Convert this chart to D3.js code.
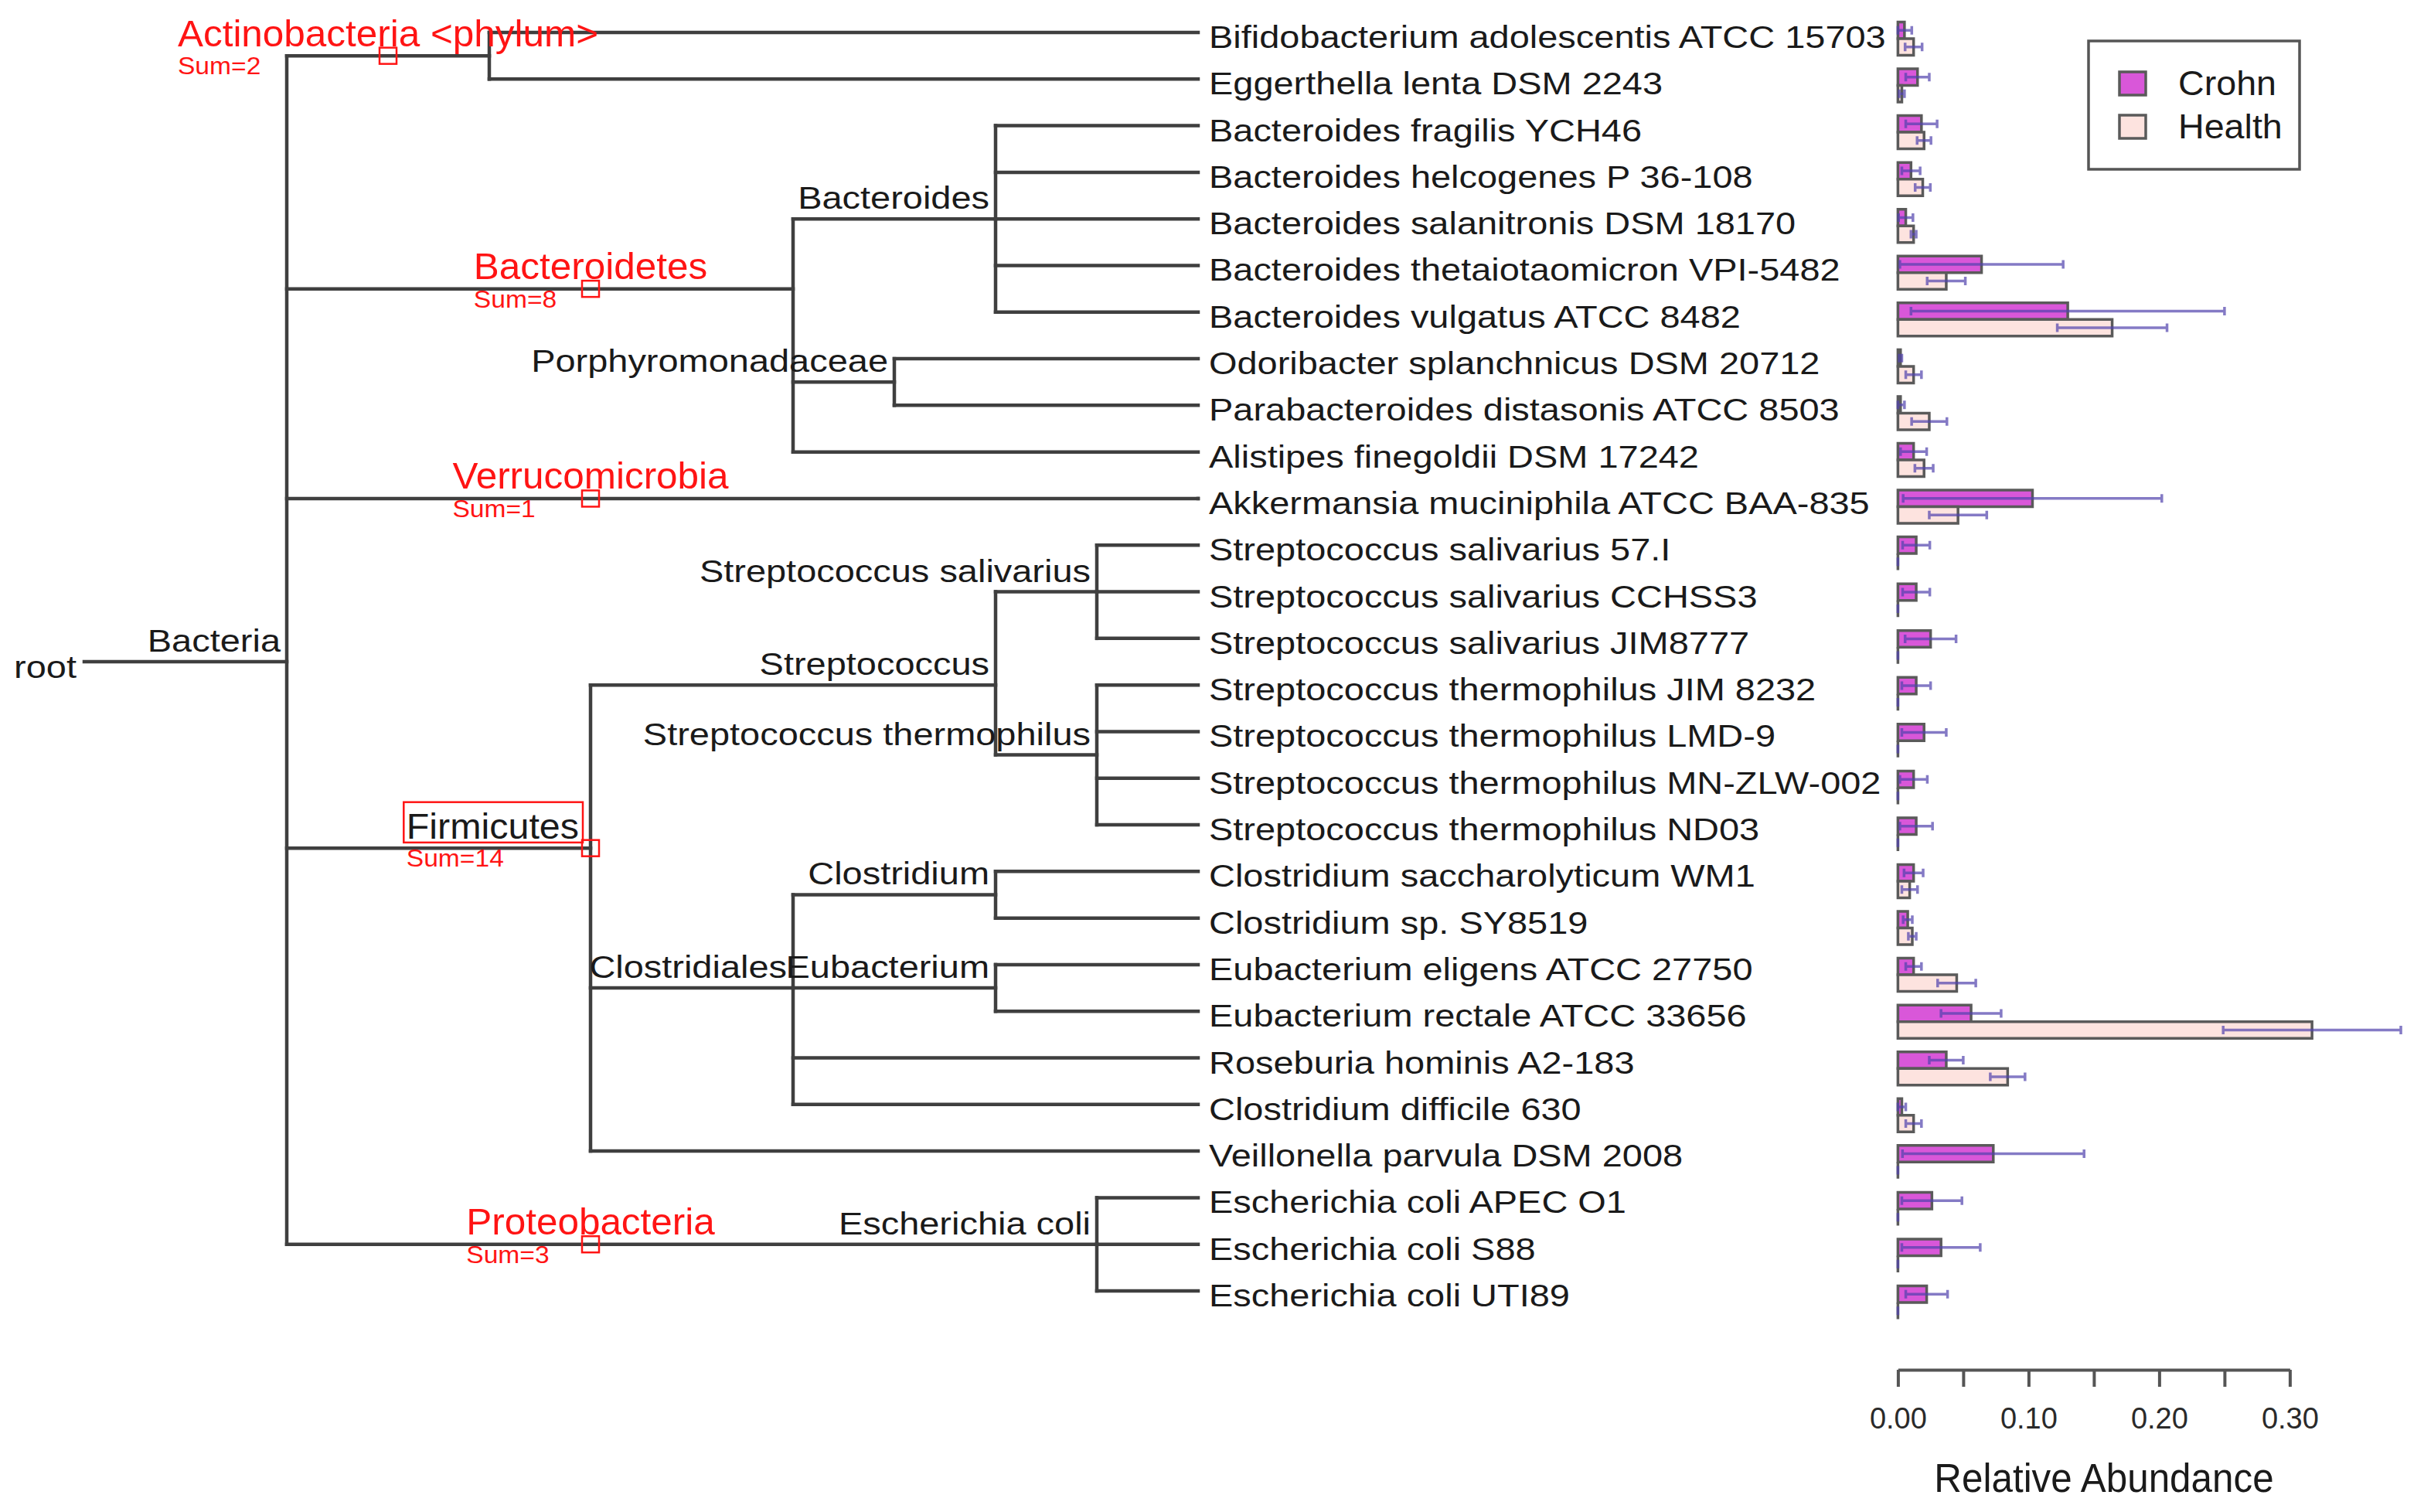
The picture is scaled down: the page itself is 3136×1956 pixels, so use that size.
<!DOCTYPE html>
<html><head><meta charset="utf-8">
<script src="https://cdn.jsdelivr.net/npm/d3@7"></script>
<style>html,body{margin:0;padding:0;background:#fff;} svg{display:block;}</style>
</head><body>
<svg id="chart" width="3136" height="1956"></svg>
<script>
// ---------------- DATA ----------------
const leafNames = [
  "Bifidobacterium adolescentis ATCC 15703",
  "Eggerthella lenta DSM 2243",
  "Bacteroides fragilis YCH46",
  "Bacteroides helcogenes P 36-108",
  "Bacteroides salanitronis DSM 18170",
  "Bacteroides thetaiotaomicron VPI-5482",
  "Bacteroides vulgatus ATCC 8482",
  "Odoribacter splanchnicus DSM 20712",
  "Parabacteroides distasonis ATCC 8503",
  "Alistipes finegoldii DSM 17242",
  "Akkermansia muciniphila ATCC BAA-835",
  "Streptococcus salivarius 57.I",
  "Streptococcus salivarius CCHSS3",
  "Streptococcus salivarius JIM8777",
  "Streptococcus thermophilus JIM 8232",
  "Streptococcus thermophilus LMD-9",
  "Streptococcus thermophilus MN-ZLW-002",
  "Streptococcus thermophilus ND03",
  "Clostridium saccharolyticum WM1",
  "Clostridium sp. SY8519",
  "Eubacterium eligens ATCC 27750",
  "Eubacterium rectale ATCC 33656",
  "Roseburia hominis A2-183",
  "Clostridium difficile 630",
  "Veillonella parvula DSM 2008",
  "Escherichia coli APEC O1",
  "Escherichia coli S88",
  "Escherichia coli UTI89"
];
const crohnMean  = [0.005,0.015,0.018,0.010,0.006,0.064,0.130,0.002,0.002,0.012,0.103,0.014,0.014,0.025,0.014,0.020,0.012,0.014,0.012,0.0075,0.012,0.056,0.037,0.003,0.073,0.026,0.033,0.022];
const crohnSD    = [0.0056,0.009,0.012,0.007,0.0055,0.0625,0.120,0.001,0.003,0.010,0.099,0.0104,0.0104,0.0195,0.011,0.017,0.0105,0.0125,0.0073,0.0035,0.006,0.023,0.013,0.003,0.0695,0.023,0.030,0.016];
const healthMean = [0.012,0.003,0.020,0.019,0.012,0.037,0.164,0.012,0.024,0.020,0.046,0,0,0,0,0,0,0,0.009,0.011,0.045,0.317,0.084,0.012,0,0,0,0];
const healthSD   = [0.0065,0.002,0.0053,0.0058,0.002,0.0146,0.042,0.006,0.0135,0.007,0.022,0,0,0,0,0,0,0,0.006,0.003,0.0146,0.068,0.0133,0.006,0,0,0,0];

// tree topology: [node, parent, depth (branch units)]
const treeNodes = [
  ["root", null, 0],
  ["Bacteria", "root", 2],
  ["Actinobacteria <phylum>", "Bacteria", 4],
  [leafNames[0], "Actinobacteria <phylum>", 11],
  [leafNames[1], "Actinobacteria <phylum>", 11],
  ["Bacteroidetes", "Bacteria", 7],
  ["Bacteroides", "Bacteroidetes", 9],
  [leafNames[2], "Bacteroides", 11],
  [leafNames[3], "Bacteroides", 11],
  [leafNames[4], "Bacteroides", 11],
  [leafNames[5], "Bacteroides", 11],
  [leafNames[6], "Bacteroides", 11],
  ["Porphyromonadaceae", "Bacteroidetes", 8],
  [leafNames[7], "Porphyromonadaceae", 11],
  [leafNames[8], "Porphyromonadaceae", 11],
  [leafNames[9], "Bacteroidetes", 11],
  ["Verrucomicrobia", "Bacteria", 11],
  [leafNames[10], "Verrucomicrobia", 11],
  ["Firmicutes", "Bacteria", 5],
  ["Streptococcus", "Firmicutes", 9],
  ["Streptococcus salivarius", "Streptococcus", 10],
  [leafNames[11], "Streptococcus salivarius", 11],
  [leafNames[12], "Streptococcus salivarius", 11],
  [leafNames[13], "Streptococcus salivarius", 11],
  ["Streptococcus thermophilus", "Streptococcus", 10],
  [leafNames[14], "Streptococcus thermophilus", 11],
  [leafNames[15], "Streptococcus thermophilus", 11],
  [leafNames[16], "Streptococcus thermophilus", 11],
  [leafNames[17], "Streptococcus thermophilus", 11],
  ["Clostridiales", "Firmicutes", 7],
  ["Clostridium", "Clostridiales", 9],
  [leafNames[18], "Clostridium", 11],
  [leafNames[19], "Clostridium", 11],
  ["Eubacterium", "Clostridiales", 9],
  [leafNames[20], "Eubacterium", 11],
  [leafNames[21], "Eubacterium", 11],
  [leafNames[22], "Clostridiales", 11],
  [leafNames[23], "Clostridiales", 11],
  [leafNames[24], "Firmicutes", 11],
  ["Proteobacteria", "Bacteria", 10],
  ["Escherichia coli", "Proteobacteria", 10],
  [leafNames[25], "Escherichia coli", 11],
  [leafNames[26], "Escherichia coli", 11],
  [leafNames[27], "Escherichia coli", 11]
];
const phylumNames = ["Actinobacteria <phylum>", "Bacteroidetes", "Verrucomicrobia", "Firmicutes", "Proteobacteria"];
const phylumMarkDepth = [3, 5, 5, 5, 5];
const highlightedNames = ["Firmicutes"];
const axisTicks = [0, 0.05, 0.10, 0.15, 0.20, 0.25, 0.30];
const axisTickLabels = ["0.00", "", "0.10", "", "0.20", "", "0.30"];
const legendLabels = ["Crohn", "Health"];
const axisTitle = "Relative Abundance";

// ---------------- STYLE ----------------
const FONT = "'Liberation Sans', Arial, Helvetica, sans-serif";
const LINE = "#3f3f3f";
const RED = "#ff1414";
const CROHN = "#d957d9";
const HEALTH = "#fde3df";
const BARSTROKE = "#5a5a5a";
const ERR = "#5042ad";
const SX = 1.145;

const svg = d3.select("#chart");
svg.append("rect").attr("width", 3136).attr("height", 1956).attr("fill", "#fff");

function txt(g, x, y, s, o) {
  return g.append("text")
    .attr("transform", `translate(${x},${y}) scale(${o.sx || 1},1)`)
    .attr("text-anchor", o.anchor || "start")
    .attr("font-family", FONT)
    .attr("font-size", o.size)
    .attr("fill", o.fill || "#1a1a1a")
    .text(s);
}

// ---------------- TREE ----------------
const xDepth = d3.scaleLinear().domain([0, 11]).range([109, 1550]);
const yLeaf = d3.scalePoint().domain(leafNames).range([42, 1670]);

const root = d3.stratify().id(d => d[0]).parentId(d => d[1])(treeNodes);
root.eachAfter(n => {
  n.px = xDepth(n.data[2]);
  n.py = n.children ? d3.mean(n.leaves(), l => yLeaf(l.id)) : yLeaf(n.id);
});

const gTree = svg.append("g");
const edges = root.descendants().filter(n => n.parent);
gTree.selectAll("line.h").data(edges).join("line")
  .attr("x1", n => n.parent.px).attr("x2", n => n.px)
  .attr("y1", n => n.py).attr("y2", n => n.py)
  .attr("stroke", LINE).attr("stroke-width", 4.5).attr("stroke-linecap", "square");
const internals = root.descendants().filter(n => n.children && n.children.length > 1);
gTree.selectAll("line.v").data(internals).join("line")
  .attr("x1", n => n.px).attr("x2", n => n.px)
  .attr("y1", n => d3.min(n.children, c => c.py))
  .attr("y2", n => d3.max(n.children, c => c.py))
  .attr("stroke", LINE).attr("stroke-width", 4.5).attr("stroke-linecap", "square");

// labels
const gLab = svg.append("g");
txt(gLab, root.px - 10, root.py + 21, root.id, {size: 41, sx: SX, anchor: "end"});
root.leaves().forEach(l => txt(gLab, 1564, l.py + 20, l.id, {size: 41, sx: SX}));
root.descendants()
  .filter(n => n.children && n.parent && !phylumNames.includes(n.id))
  .forEach(n => txt(gLab, n.px - 8, n.py - 13, n.id, {size: 41, sx: SX, anchor: "end"}));

// phylum labels and markers
phylumNames.forEach((p, i) => {
  const n = root.descendants().find(d => d.id === p);
  const mx = xDepth(phylumMarkDepth[i]);
  const count = n.leaves().length;
  let left;
  if (highlightedNames.includes(p)) {
    const t = txt(gLab, n.px - 15, n.py - 12, p, {size: 47, sx: 1.03, anchor: "end"});
    const w = t.node().getComputedTextLength() * 1.03;
    left = n.px - 15 - w;
    gLab.append("rect")
      .attr("x", left - 3.5).attr("y", n.py - 12 - 47.5)
      .attr("width", w + 8.5).attr("height", 52.2)
      .attr("fill", "none").attr("stroke", RED).attr("stroke-width", 2.5);
  } else {
    const t = txt(gLab, mx, n.py - 12.5, p, {size: 48, sx: 1.03, anchor: "middle", fill: RED});
    const w = t.node().getComputedTextLength() * 1.03;
    left = mx - w / 2;
  }
  txt(gLab, left, n.py + 24, "Sum=" + count, {size: 32, sx: 1.05, fill: RED});
  gLab.append("rect")
    .attr("x", mx - 11).attr("y", n.py - 10.5)
    .attr("width", 22).attr("height", 21)
    .attr("fill", "none").attr("stroke", RED).attr("stroke-width", 2.5);
});

// ---------------- BARS ----------------
const xBar = d3.scaleLinear().domain([0, 0.30]).range([2455.4, 2962.4]);
const yBar = d3.scalePoint().domain(leafNames).range([50, 1685]);
const BH = 21.5;

const rows = leafNames.map((name, i) => ({name, c: crohnMean[i], cs: crohnSD[i], h: healthMean[i], hs: healthSD[i]}));
const gBars = svg.append("g");

function barPath(v, y0, y1) {
  const x0 = xBar(0), x1 = xBar(v);
  return `M${x0},${y0}H${x1}V${y1}H${x0}Z`;
}
gBars.selectAll("path.c").data(rows).join("path")
  .attr("d", d => barPath(d.c, yBar(d.name) - BH, yBar(d.name)))
  .attr("fill", CROHN).attr("stroke", BARSTROKE).attr("stroke-width", 3.5);
gBars.selectAll("path.h").data(rows).join("path")
  .attr("d", d => barPath(d.h, yBar(d.name), yBar(d.name) + BH))
  .attr("fill", HEALTH).attr("stroke", BARSTROKE).attr("stroke-width", 3.5);

function errPath(m, s, y) {
  const a = xBar(Math.max(0, m - s)), b = xBar(m + s), c = 5.5;
  return `M${a},${y}H${b}M${a},${y - c}V${y + c}M${b},${y - c}V${y + c}`;
}
gBars.selectAll("path.ec").data(rows).join("path")
  .attr("d", d => errPath(d.c, d.cs, yBar(d.name) - BH / 2))
  .attr("fill", "none").attr("stroke", ERR).attr("stroke-opacity", 0.7).attr("stroke-width", 3.5);
gBars.selectAll("path.eh").data(rows).join("path")
  .attr("d", d => errPath(d.h, d.hs, yBar(d.name) + BH / 2))
  .attr("fill", "none").attr("stroke", ERR).attr("stroke-opacity", 0.7).attr("stroke-width", 3.5);

// axis
const gAxis = svg.append("g").attr("transform", "translate(0,1772)")
  .call(d3.axisBottom(xBar).tickValues(axisTicks)
    .tickFormat((d, i) => axisTickLabels[i]).tickSize(22).tickSizeOuter(0).tickPadding(27));
gAxis.select(".domain").attr("stroke", "#555").attr("stroke-width", 4);
gAxis.selectAll(".tick line").attr("stroke", "#555").attr("stroke-width", 4);
gAxis.selectAll(".tick text").attr("font-family", FONT).attr("font-size", 38).attr("fill", "#2a2a2a");
txt(svg, 2722, 1930, axisTitle, {size: 52, sx: 0.95, anchor: "middle"});

// legend
const gLeg = svg.append("g");
gLeg.append("rect").attr("x", 2702).attr("y", 53).attr("width", 273).attr("height", 166)
  .attr("fill", "#fff").attr("stroke", "#555").attr("stroke-width", 3.5);
[CROHN, HEALTH].forEach((col, i) => {
  gLeg.append("rect").attr("x", 2742).attr("y", 93 + i * 56).attr("width", 34).attr("height", 30)
    .attr("fill", col).attr("stroke", BARSTROKE).attr("stroke-width", 3.5);
  txt(gLeg, 2818, 123 + i * 56, legendLabels[i], {size: 44, sx: 1.06});
});
</script>
</body></html>
